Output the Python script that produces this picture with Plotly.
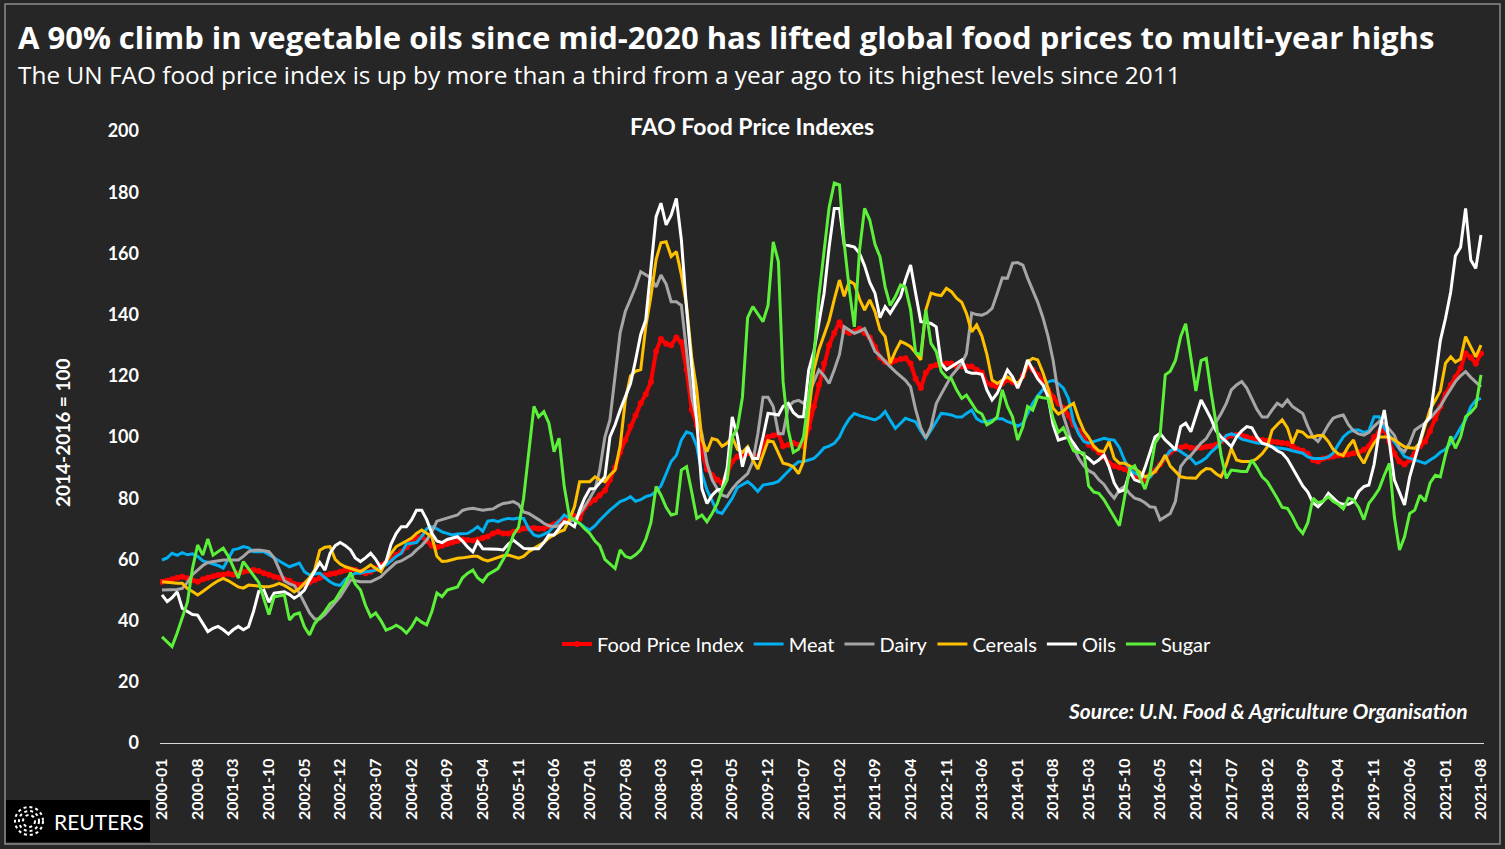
import pandas as pd
import plotly.graph_objects as go

# FAO indexes, 2014-2016 = 100, monthly Jan 2000 .. Aug 2021
food_price_index = [
    52.7, 53.0, 53.5, 54.0, 54.3, 53.8, 53.2, 52.7, 53.5, 54.0, 54.5, 54.9,
    55.0, 55.3, 55.0, 55.5, 56.0, 56.3, 56.5, 56.2, 55.5, 55.0, 54.3, 54.0,
    53.5, 53.0, 52.0, 51.6, 51.8, 52.5, 53.3, 54.0, 54.8, 55.2, 55.5, 56.0,
    56.5, 56.8, 56.5, 56.0, 55.5, 56.0, 57.0, 58.2, 59.0, 60.0, 61.5, 62.5,
    64.0, 65.5, 67.0, 67.4, 66.0, 64.5, 64.0, 64.5, 65.0, 65.5, 66.0, 66.5,
    66.3, 66.2, 66.5, 67.0, 67.5, 68.5, 69.0, 68.5, 68.5, 69.0, 69.5, 70.1,
    70.1, 70.3, 70.0, 70.1, 70.8, 71.5, 72.3, 73.2, 74.0, 74.2, 73.4, 77.0,
    78.5, 79.5, 81.0, 82.5, 86.0, 90.0, 95.0, 99.0, 103.5, 107.0, 111.0, 114.0,
    118.0, 128.0, 132.0, 130.5, 130.0, 132.5, 131.0, 122.0, 109.0, 104.0, 95.0, 89.5,
    87.5, 86.0, 85.0, 88.0, 92.0, 93.6, 94.0, 94.7, 94.0, 93.6, 97.0, 100.0,
    100.5, 101.0, 97.0, 97.5, 98.0, 97.5, 97.0, 103.0, 110.0, 117.0, 124.0, 130.0,
    134.0, 137.5, 134.5, 134.0, 134.5, 135.4, 134.0, 132.5, 129.5, 126.0, 124.5, 124.0,
    125.0, 125.5, 125.7, 124.0, 119.0, 116.0, 121.0, 123.0, 123.5, 123.8, 124.0, 124.0,
    123.0, 123.0, 123.0, 123.0, 122.0, 121.0, 117.5, 117.0, 116.4, 117.5, 118.6, 118.0,
    117.0, 120.0, 123.5, 122.0, 120.3, 118.0, 115.5, 113.0, 111.0, 109.5, 107.0, 104.0,
    102.0, 99.5, 97.5, 96.5, 95.0, 93.5, 91.5, 90.5, 90.0, 89.5, 88.5, 87.5,
    86.5, 86.0, 87.5, 89.0, 91.0, 93.0, 95.0, 96.0, 96.5, 97.0, 96.5, 96.3,
    96.5, 96.8, 97.0, 97.5, 98.5, 100.0, 100.5, 100.7, 100.5, 100.0, 99.5, 99.0,
    99.0, 98.8, 98.5, 98.3, 98.0, 97.9, 97.0, 96.0, 95.5, 94.5, 92.5, 92.0,
    93.0, 93.3, 93.6, 94.0, 94.1, 94.3, 94.7, 95.0, 95.8, 97.0, 100.0, 101.5,
    102.3, 98.5, 94.5, 92.0, 91.0, 92.5, 94.5, 97.0, 98.5, 102.0, 106.0, 110.0,
    114.0, 117.0, 119.5, 122.5, 127.3, 126.0, 124.0, 127.3,
]
meat = [
    59.8, 60.5, 62.0, 61.3, 62.2, 61.5, 61.8, 61.0, 59.5, 59.0, 58.5, 58.0,
    57.2, 60.5, 63.1, 63.5, 64.2, 63.8, 62.5, 62.5, 62.5, 61.5, 60.5, 59.3,
    58.5, 57.6, 58.2, 58.8, 56.0, 54.9, 55.2, 55.5, 54.0, 52.7, 51.8, 51.5,
    53.5, 54.5, 55.5, 55.5, 56.0, 56.1, 56.5, 57.5, 58.2, 59.5, 61.0, 62.0,
    65.0, 65.3, 65.5, 67.5, 70.0, 70.7, 70.0, 69.0, 68.5, 68.0, 68.3, 68.5,
    68.5, 69.5, 70.7, 69.2, 72.5, 72.8, 72.3, 73.0, 73.4, 73.2, 73.5, 73.4,
    70.0, 68.0, 67.5, 68.2, 69.0, 71.0, 72.5, 74.5, 73.5, 72.5, 71.8, 70.5,
    69.6, 71.0, 72.8, 74.5, 76.1, 77.5, 78.9, 79.5, 80.5, 79.0, 79.5, 80.5,
    81.0, 82.2, 84.0, 88.0, 92.0, 94.0, 99.0, 101.7, 101.0, 97.0, 88.0, 82.7,
    79.0, 75.5, 75.0, 77.5, 80.0, 83.5, 84.5, 85.4, 84.0, 82.2, 84.3, 84.5,
    84.9, 85.5, 87.0, 89.0, 90.5, 91.9, 92.0, 92.5, 93.0, 94.5, 96.5, 97.0,
    97.9, 100.0, 103.3, 106.0, 107.7, 107.0, 106.6, 106.0, 105.6, 106.5, 108.3, 105.5,
    102.8, 104.5, 106.1, 105.5, 105.0, 102.0, 99.6, 102.2, 105.0, 107.7, 107.5, 107.2,
    106.5, 106.5, 107.7, 108.8, 106.0, 105.0, 105.0, 105.5, 106.0, 106.0, 105.0, 104.5,
    103.5, 104.5, 107.5, 111.0, 113.5, 115.5, 118.0, 118.5, 117.5, 116.0, 112.5, 105.0,
    101.0, 98.5, 98.0, 98.5, 99.0, 99.6, 99.2, 99.0, 96.5, 92.5, 89.5, 88.2,
    87.5, 87.0, 86.8, 89.0, 91.5, 93.5, 95.5, 96.3, 95.2, 94.2, 93.0, 91.2,
    92.0, 93.2, 95.0, 96.5, 98.5, 100.5, 101.0, 100.5, 99.3, 98.8, 98.5, 98.0,
    97.9, 97.3, 96.8, 96.5, 96.3, 96.0, 95.5, 95.0, 94.7, 93.5, 93.0, 93.0,
    93.0, 93.5, 94.7, 97.5, 100.0, 101.5, 102.3, 102.3, 101.5, 102.0, 106.6, 106.6,
    103.0, 100.5, 98.5, 96.0, 93.6, 93.0, 92.5, 92.0, 91.4, 92.5, 93.5, 95.0,
    96.0, 98.0, 100.0, 103.0, 105.6, 109.9, 112.0, 112.6,
]
dairy = [
    50.0, 50.0, 50.0, 50.2, 50.5, 52.5, 55.0, 56.5, 58.0, 59.0, 59.3, 59.5,
    59.8, 59.8, 59.8, 59.8, 61.0, 62.5, 63.0, 63.1, 62.8, 62.5, 60.5, 57.0,
    53.0, 52.0, 51.5, 49.0, 46.0, 42.5, 40.5, 40.5, 42.0, 44.0, 46.0, 47.8,
    50.5, 53.3, 53.0, 52.7, 52.7, 52.7, 53.5, 54.3, 56.0, 57.6, 59.0, 59.5,
    60.4, 61.5, 63.1, 64.5, 66.3, 69.0, 72.5, 73.0, 73.4, 74.0, 74.5, 76.0,
    76.5, 76.7, 76.5, 76.1, 76.3, 76.5, 77.5, 78.3, 78.5, 78.9, 78.0, 75.5,
    75.0, 74.0, 73.0, 71.8, 71.0, 70.7, 71.0, 71.8, 72.5, 73.0, 75.0, 77.2,
    80.0, 83.0, 89.2, 100.0, 105.6, 121.0, 134.0, 141.0, 145.0, 149.0, 154.0, 153.0,
    152.0, 149.0, 152.9, 150.0, 144.2, 144.2, 143.0, 128.0, 113.0, 105.6, 101.0, 91.4,
    86.0, 83.0, 81.0, 80.5, 83.0, 85.0, 86.5, 88.0, 92.0, 101.0, 113.0, 113.0,
    110.0, 101.1, 101.1, 109.9, 111.5, 112.0, 111.0, 114.0, 118.0, 121.9, 120.0, 117.5,
    122.0, 127.0, 136.0, 135.0, 133.9, 134.5, 135.4, 132.0, 128.0, 126.5, 124.6, 123.0,
    121.4, 120.0, 118.5, 116.4, 109.0, 103.0, 99.6, 103.3, 110.9, 114.0, 117.0, 120.0,
    122.0, 124.1, 127.3, 140.5, 140.0, 139.8, 140.5, 142.0, 147.0, 152.0, 151.9, 156.8,
    157.0, 156.2, 152.0, 148.0, 144.0, 139.0, 133.0, 125.0, 114.0, 107.0, 102.0, 96.5,
    93.0, 90.5, 89.0, 88.1, 86.0, 84.5, 82.0, 80.0, 82.7, 83.8, 81.5, 80.0,
    79.5, 78.5, 77.2, 77.0, 72.9, 74.0, 75.0, 79.0, 90.3, 92.5, 94.0, 96.0,
    98.0, 99.5, 102.0, 105.0, 107.7, 111.0, 115.4, 117.0, 118.1, 116.0, 112.5, 109.0,
    106.5, 106.5, 108.8, 111.0, 110.0, 112.1, 110.0, 108.8, 107.7, 103.5, 100.0, 98.5,
    101.0, 104.0, 106.1, 106.8, 107.2, 104.0, 102.0, 101.0, 100.6, 101.5, 103.5, 105.0,
    104.5, 102.5, 100.6, 96.3, 95.2, 98.0, 102.2, 103.4, 104.5, 106.1, 108.0, 110.0,
    113.0, 115.5, 118.1, 120.0, 121.4, 119.5, 118.0, 116.4,
]
cereals = [
    52.7, 52.5, 52.3, 52.2, 52.2, 50.5, 49.5, 48.4, 49.5, 50.8, 52.0, 53.0,
    53.8, 53.0, 52.0, 51.0, 50.6, 51.6, 51.5, 51.2, 51.1, 51.1, 51.5, 52.2,
    51.5, 50.5, 49.4, 50.5, 52.2, 54.0, 56.5, 63.0, 64.0, 64.2, 60.0, 58.5,
    57.6, 57.0, 56.5, 56.0, 57.0, 58.2, 57.0, 56.0, 59.3, 62.0, 64.2, 65.0,
    66.0, 67.0, 68.5, 69.6, 68.5, 67.4, 61.0, 59.3, 59.5, 60.0, 60.4, 60.5,
    60.8, 61.0, 61.0, 60.0, 59.5, 60.0, 60.5, 61.2, 61.4, 61.0, 60.4, 61.0,
    62.5, 63.6, 64.5, 65.5, 67.0, 68.0, 69.0, 69.6, 73.0, 77.2, 85.4, 85.4,
    85.4, 87.0, 86.0, 85.4, 87.5, 89.2, 97.0, 112.0, 120.0, 121.5, 122.0, 136.0,
    146.0, 158.0, 163.5, 163.8, 159.0, 160.6, 153.0, 143.0, 126.0, 115.4, 99.0, 95.2,
    99.5, 99.0, 97.0, 98.0, 100.0, 96.0, 95.0, 96.8, 92.5, 89.5, 94.0, 98.8,
    98.4, 95.0, 91.4, 91.0, 90.3, 88.0, 92.0, 108.0, 122.0, 128.5, 133.0, 138.0,
    145.0, 151.3, 146.0, 151.0, 150.0, 145.0, 141.5, 144.8, 141.0, 135.0, 132.8, 124.1,
    128.0, 131.2, 130.5, 129.5, 127.5, 125.2, 141.5, 147.0, 146.5, 146.2, 148.6, 147.5,
    145.4, 144.0, 140.4, 134.4, 136.6, 133.0, 127.0, 118.6, 117.5, 118.5, 119.7, 118.5,
    117.5, 119.5, 124.5, 125.7, 125.2, 121.0, 116.0, 109.4, 107.5, 108.5, 110.0, 111.0,
    106.0, 102.0, 100.0, 97.0, 95.5, 95.2, 98.5, 93.0, 91.4, 91.4, 90.5, 89.7,
    88.5, 87.0, 87.5, 88.7, 91.0, 94.1, 90.5, 88.7, 87.0, 86.7, 86.5, 86.5,
    88.5, 89.7, 89.5, 88.0, 87.0, 91.0, 96.3, 92.5, 92.0, 92.0, 92.0, 93.0,
    94.5, 96.8, 102.2, 104.0, 105.6, 103.0, 97.9, 102.0, 101.5, 100.0, 100.0, 100.5,
    100.5, 98.5, 96.0, 94.5, 94.0, 97.0, 99.0, 94.1, 91.4, 95.0, 98.0, 100.0,
    100.0, 100.0, 99.0, 98.0, 96.8, 96.5, 96.3, 98.0, 104.0, 109.0, 112.0, 115.0,
    124.1, 126.2, 124.5, 125.5, 132.8, 129.5, 126.2, 130.0,
]
oils = [
    48.4, 46.2, 47.5, 49.4, 44.0, 43.0, 42.0, 41.8, 39.0, 36.4, 37.5, 38.1,
    37.0, 35.6, 37.0, 38.1, 37.0, 38.0, 43.0, 49.5, 50.0, 46.0, 49.0, 49.3,
    49.4, 48.5, 47.3, 48.4, 50.0, 53.3, 56.0, 59.0, 56.5, 62.0, 64.5, 65.5,
    64.5, 63.1, 60.5, 59.3, 60.5, 62.0, 60.0, 57.2, 59.3, 65.0, 68.5, 70.7,
    70.7, 73.0, 76.1, 76.1, 73.0, 68.5, 66.0, 65.5, 66.5, 67.0, 67.4, 66.0,
    64.0, 62.5, 65.8, 63.5, 63.5, 63.5, 63.3, 63.1, 65.0, 66.3, 65.0, 63.6,
    63.5, 63.6, 63.5, 65.5, 68.0, 68.0, 70.0, 72.3, 71.8, 70.7, 76.1, 80.0,
    83.0, 83.2, 85.0, 87.0, 100.0, 104.0, 108.8, 113.0, 117.5, 125.0, 133.5, 138.2,
    155.0, 172.0, 176.4, 169.3, 172.5, 178.0, 164.4, 142.0, 123.0, 105.0, 83.0, 78.3,
    81.0, 82.7, 83.0, 90.0, 106.6, 100.0, 90.3, 96.8, 93.0, 93.0, 100.0, 107.7,
    107.5, 107.2, 110.0, 111.0, 108.0, 106.6, 106.6, 121.9, 128.0, 138.0, 147.0, 162.0,
    174.7, 174.7, 163.0, 162.5, 162.1, 160.0, 156.0, 150.5, 147.0, 139.0, 142.6, 140.4,
    143.0, 145.9, 151.3, 156.2, 147.0, 137.7, 137.5, 137.1, 136.0, 124.0, 122.0, 123.0,
    124.0, 125.2, 121.4, 120.8, 120.8, 120.5, 115.4, 112.1, 114.3, 118.0, 121.9, 119.7,
    116.0, 120.0, 125.2, 122.0, 119.0, 117.0, 113.2, 104.0, 99.0, 99.5, 100.0, 98.0,
    95.5, 94.0, 93.0, 91.4, 92.5, 94.1, 90.3, 85.0, 82.1, 82.7, 88.7, 86.0,
    85.4, 90.0, 95.0, 100.0, 101.2, 99.0, 97.5, 95.8, 103.4, 104.5, 101.7, 107.0,
    112.1, 109.0, 106.0, 102.0, 100.0, 98.5, 96.8, 100.0, 102.0, 103.4, 103.0, 100.0,
    98.0, 97.5, 96.8, 95.5, 94.7, 92.8, 90.0, 87.0, 84.0, 82.0, 78.5, 77.2,
    79.0, 81.6, 80.0, 78.5, 78.0, 78.0, 78.9, 82.2, 83.8, 84.3, 91.0, 101.5,
    108.8, 98.0, 86.0, 82.0, 77.8, 87.0, 93.0, 98.7, 104.6, 106.6, 120.0, 131.5,
    138.8, 147.4, 159.2, 162.0, 174.7, 157.8, 155.1, 166.0,
]
sugar = [
    34.7, 33.0, 31.5, 36.0, 41.0, 46.0, 57.0, 64.7, 61.4, 66.7, 61.4, 62.5,
    63.7, 61.0, 57.5, 53.9, 59.3, 57.0, 54.5, 52.5, 47.0, 42.0, 47.8, 48.0,
    48.4, 40.2, 42.0, 42.5, 38.0, 35.3, 39.0, 41.0, 43.0, 45.5, 46.7, 49.4,
    52.0, 55.7, 52.0, 50.0, 45.0, 41.3, 42.5, 40.0, 36.9, 37.5, 38.5, 37.5,
    35.9, 38.0, 40.8, 39.5, 38.6, 43.0, 49.0, 47.8, 50.0, 50.5, 51.0, 54.0,
    55.5, 56.5, 54.0, 52.7, 55.0, 56.0, 57.0, 60.0, 63.1, 68.0, 70.5, 80.0,
    95.0, 110.0, 106.6, 108.3, 104.6, 95.2, 99.6, 83.8, 74.0, 73.0, 71.8, 70.0,
    68.5, 66.0, 64.5, 60.0, 58.5, 57.0, 63.1, 61.0, 60.4, 61.5, 63.1, 66.5,
    72.0, 83.8, 81.0, 77.0, 74.5, 75.0, 89.2, 90.3, 82.0, 73.4, 74.5, 72.3,
    75.0, 78.3, 82.7, 86.0, 100.0, 103.0, 113.0, 139.0, 142.6, 140.0, 137.7, 143.0,
    163.8, 157.3, 118.0, 102.3, 95.0, 96.0, 100.0, 113.0, 126.2, 146.0, 160.0, 175.0,
    183.0, 182.4, 163.3, 148.0, 136.0, 161.1, 174.7, 170.9, 163.0, 158.9, 149.0, 143.0,
    145.9, 149.7, 149.0, 141.5, 127.5, 126.8, 141.5, 130.6, 128.0, 121.5, 119.5, 119.0,
    115.4, 112.6, 113.7, 111.0, 108.5, 107.5, 104.0, 105.0, 106.6, 115.4, 110.0, 106.6,
    99.0, 103.3, 110.0, 108.8, 113.2, 112.8, 112.6, 106.0, 101.5, 103.0, 99.0, 95.5,
    95.0, 94.7, 84.0, 82.0, 81.6, 79.5, 76.7, 74.0, 71.0, 80.0, 89.5, 90.6,
    87.0, 83.0, 88.0, 98.0, 100.5, 120.3, 121.5, 125.0, 132.8, 137.0, 126.0, 115.0,
    125.0, 125.7, 115.0, 104.0, 94.0, 86.5, 89.2, 89.0, 88.7, 88.7, 92.5, 90.0,
    87.0, 85.4, 83.0, 80.0, 77.0, 76.7, 74.0, 70.5, 68.5, 72.0, 80.0, 78.5,
    79.0, 80.5, 79.0, 78.0, 76.5, 80.0, 79.5, 77.0, 73.0, 78.3, 80.5, 83.0,
    87.5, 91.4, 74.0, 63.1, 67.4, 75.0, 76.1, 81.0, 79.0, 85.0, 87.5, 87.0,
    94.2, 100.2, 96.3, 100.0, 106.6, 108.0, 109.9, 120.3,
]

months = pd.date_range("2000-01-01", "2021-08-01", freq="MS")
series = [
    ("Food Price Index", food_price_index, "#FF0000"),
    ("Meat", meat, "#00B0F0"),
    ("Dairy", dairy, "#A6A6A6"),
    ("Cereals", cereals, "#FFC000"),
    ("Oils", oils, "#FFFFFF"),
    ("Sugar", sugar, "#5CF03A"),
]
for name, vals, _ in series:
    assert len(vals) == len(months), (name, len(vals))

BG, INK = "#262626", "#FFFFFF"
FONT, HEAD = "Lato", "Open Sans"

fig = go.Figure()
for name, vals, color in series:
    if name == "Food Price Index":
        fig.add_trace(go.Scatter(
            x=months, y=vals, name=name, mode="lines+markers",
            line={"color": color, "width": 4}, marker={"color": color, "size": 6}))
    else:
        fig.add_trace(go.Scatter(
            x=months, y=vals, name=name, mode="lines",
            line={"color": color, "width": 3}))

# plot area is x 160..1484 px, y 131..743 px; helpers convert pixel spots to paper units
def px(x):
    return (x - 160) / 1324


def py(y):
    return (743 - y) / 612


annotations = [
    dict(text="<b>A 90% climb in vegetable oils since mid-2020 has lifted global food prices to multi-year highs</b>",
         x=px(16), y=py(37), xanchor="left", font={"size": 31, "color": INK, "family": HEAD}),
    dict(text="The UN FAO food price index is up by more than a third from a year ago to its highest levels since 2011",
         x=px(16), y=py(74), xanchor="left", font={"size": 24.4, "color": INK, "family": HEAD}),
    dict(text="<b>FAO Food Price Indexes</b>", x=px(752), y=py(126), xanchor="center",
         font={"size": 23, "color": INK}),
    dict(text="<b>2014-2016 = 100</b>", x=px(62), y=py(433), textangle=-90, xanchor="center",
         font={"size": 19, "color": INK}),
    dict(text="<b><i>Source: U.N. Food &amp; Agriculture Organisation</i></b>", x=px(1470), y=py(710),
         xanchor="right", font={"size": 21, "color": INK}),
    dict(text="REUTERS", x=px(52), y=py(821), xanchor="left", font={"size": 21, "color": INK}),
]
for a in annotations:
    a.update(xref="paper", yref="paper", yanchor="middle", showarrow=False)

shapes = [
    dict(type="rect", x0=px(5), x1=px(1500), y0=py(844), y1=py(4),
         line={"color": "#8C8C8C", "width": 1.5}),
    dict(type="rect", x0=px(6), x1=px(150), y0=py(842), y1=py(800),
         fillcolor="#000000", line={"width": 0}),
]
for r in (14, 10, 6):
    shapes.append(dict(type="circle", xsizemode="pixel", ysizemode="pixel",
                       xanchor=px(29), yanchor=py(821), x0=-r, x1=r, y0=-r, y1=r,
                       line={"color": "#FFFFFF", "width": 2, "dash": "dot"}))
for s in shapes:
    s.update(xref="paper", yref="paper", layer="above")

fig.update_layout(
    width=1505, height=849, paper_bgcolor=BG, plot_bgcolor=BG,
    margin={"l": 160, "r": 21, "t": 131, "b": 106},
    font={"family": FONT, "color": INK},
    showlegend=True,
    legend={"orientation": "h", "x": px(887), "y": py(644), "xanchor": "center", "yanchor": "middle",
            "font": {"size": 20, "color": INK}, "bgcolor": "rgba(0,0,0,0)",
            "itemwidth": 30, "tracegroupgap": 0},
    annotations=annotations, shapes=shapes,
    xaxis={"type": "date", "range": ["1999-12-20", "2021-08-19"],
           "tick0": "2000-01-01", "dtick": "M7", "tickformat": "%Y-%m", "tickangle": -90,
           "tickfont": {"size": 16, "color": INK, "weight": "bold"},
           "showgrid": False, "zeroline": False, "showline": True,
           "linecolor": "#D9D9D9", "linewidth": 1, "ticks": "", "ticklabelstandoff": 8},
    yaxis={"range": [0, 200], "dtick": 20, "showgrid": False, "zeroline": False,
           "showline": False, "ticks": "", "ticklabelstandoff": 20,
           "tickfont": {"size": 18, "color": INK, "weight": "bold"}},
)

# drop the page's default body margin so the figure sits at the window's top-left corner
fig.write_html("out.html", config={"displayModeBar": False},
               post_script="document.body.style.margin = '0';")
